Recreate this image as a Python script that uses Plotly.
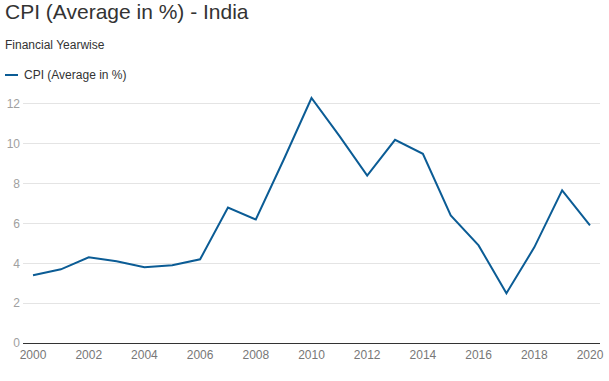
import plotly.graph_objects as go

years = list(range(2000, 2021))
cpi = [3.4, 3.7, 4.3, 4.1, 3.8, 3.9, 4.2, 6.8, 6.2, 9.2, 12.3, 10.4, 8.4, 10.2, 9.5,
       6.4, 4.9, 2.5, 4.8, 7.66, 5.9]
series_name = "CPI (Average in %)"
title_text = "CPI (Average in %) - India"
subtitle_text = "Financial Yearwise"
x_ticks = list(range(2000, 2021, 2))
y_ticks = [0, 2, 4, 6, 8, 10, 12]

W, H = 609, 381
ml, mr, mt, mb = 23, 9, 94, 38
pw = W - ml - mr
ph = H - mt - mb

def px_x(p):
    return (p - ml) / pw

def px_y(p):
    return (H - mb - p) / ph

color = "#0b5c95"
font_family = "Liberation Sans, Arial, sans-serif"

fig = go.Figure()
fig.add_trace(go.Scatter(x=years, y=cpi, mode="lines", name=series_name,
                         line=dict(color=color, width=2), showlegend=False))

fig.update_layout(
    width=W, height=H,
    margin=dict(l=ml, r=mr, t=mt, b=mb, autoexpand=False),
    paper_bgcolor="white", plot_bgcolor="white",
    font=dict(family=font_family),
    title=dict(text=title_text, x=5 / W, xref="container", xanchor="left",
               y=1 - 4 / H, yref="container", yanchor="top",
               font=dict(size=21, color="#333333", family=font_family)),
    xaxis=dict(range=[1999.64, 2020.36], tickvals=x_ticks, showgrid=False,
               zeroline=False, showline=False, ticks="", automargin=False,
               ticklabelstandoff=3,
               tickfont=dict(size=12, color="#777777"), fixedrange=True),
    yaxis=dict(range=[0, 12.5], tickvals=y_ticks, showgrid=True,
               gridcolor="#e4e4e4", gridwidth=1, zeroline=True, automargin=False,
               zerolinecolor="#333333", zerolinewidth=1, showline=False,
               ticks="", ticklabelstandoff=2,
               tickfont=dict(size=12, color="#a0a0a0")),
    annotations=[
        dict(text=subtitle_text, xref="paper", yref="paper", x=px_x(3), y=px_y(45),
             xanchor="left", yanchor="middle", showarrow=False,
             font=dict(size=12, color="#333333", family=font_family)),
        dict(text=series_name, xref="paper", yref="paper", x=px_x(22), y=px_y(75),
             xanchor="left", yanchor="middle", showarrow=False,
             font=dict(size=12, color="#333333", family=font_family)),
    ],
    shapes=[
        dict(type="line", xref="paper", yref="paper", x0=px_x(5), x1=px_x(18),
             y0=px_y(75), y1=px_y(75), line=dict(color=color, width=2)),
    ],
)

fig.write_html("out.html", post_script="document.body.style.margin='0';",
               config={"displayModeBar": False})
